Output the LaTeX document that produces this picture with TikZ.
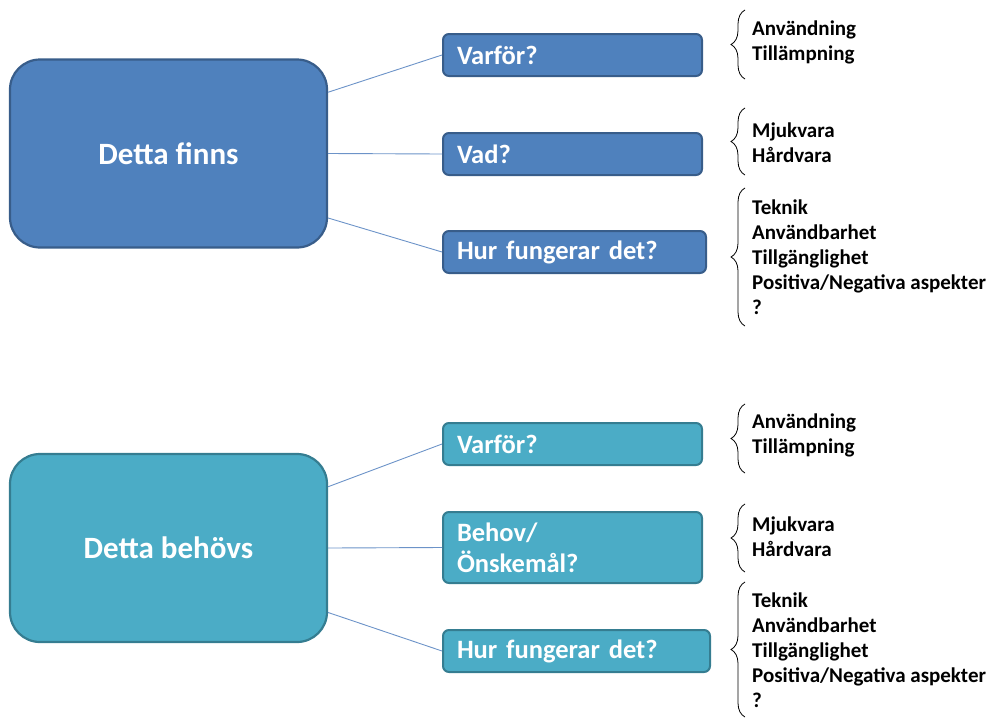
\documentclass[tikz,border=0pt]{standalone}
\usepackage{fontspec}
\setmainfont{Carlito}
\usepackage{tikz}
\usetikzlibrary{positioning,decorations.pathreplacing}
\usepackage{xcolor}
\definecolor{finnsfill}{HTML}{4F81BD}
\definecolor{finnsline}{HTML}{385D8A}
\definecolor{behovfill}{HTML}{4BACC6}
\definecolor{behovline}{HTML}{357D91}
\definecolor{linkcol}{HTML}{6C93C8}

\begin{document}
\begin{tikzpicture}[x=1pt,y=-1pt,
    mainbox/.style={draw,line width=2.2pt,rounded corners=30pt,minimum width=317pt,
      minimum height=188pt,text=white,font=\fontsize{31}{36}\selectfont\bfseries},
    subbox/.style={draw,line width=2pt,rounded corners=6pt,inner xsep=14pt,
      minimum height=42pt,align=left,text=white,font=\fontsize{26.5}{31}\selectfont\bfseries},
    link/.style={linkcol,line width=0.9pt},
    curly/.style={decorate,decoration={brace,amplitude=14pt},line width=0.8pt},
    items/.style={anchor=west,align=left,inner sep=0pt,font=\fontsize{21}{25}\selectfont\bfseries}]
  \useasboundingbox (0,0) rectangle (992,718);

  % upper half
  \node[mainbox,fill=finnsfill,draw=finnsline] (fin) at (168.5,153.5) {Detta finns};
  \node[subbox,fill=finnsfill,draw=finnsline,text width=231pt] (fvar) at (572.5,55) {Varf\"or?};
  \node[subbox,fill=finnsfill,draw=finnsline,text width=231pt] (fvad) at (572.5,154) {Vad?};
  \node[subbox,fill=finnsfill,draw=finnsline,text width=235pt] (fhur) at (574.5,252) {Hur fungerar det?};
  \draw[link] (fin.21) -- (fvar.west);
  \draw[link] (fin.east) -- (fvad.west);
  \draw[link] (fin.-22) -- (fhur.west);

  % lower half
  \node[mainbox,fill=behovfill,draw=behovline] (beh) at (168.5,548) {Detta beh\"ovs};
  \node[subbox,fill=behovfill,draw=behovline,text width=231pt] (bvar) at (572.5,444) {Varf\"or?};
  \node[subbox,fill=behovfill,draw=behovline,text width=231pt,minimum height=71pt] (bbeh) at (572.5,547.5) {Behov/\\\"Onskem\aa l?};
  \node[subbox,fill=behovfill,draw=behovline,text width=239pt] (bhur) at (576.5,651) {Hur fungerar det?};
  \draw[link] (beh.21) -- (bvar.west);
  \draw[link] (beh.east) -- (bbeh.west);
  \draw[link] (beh.-22) -- (bhur.west);

  % braces with lists
  \foreach \nm/\top/\bot/\mid/\txt in {
      fa/10/79/42.5/{Anv\"andning\\Till\"ampning},
      fb/108/175/142.5/{Mjukvara\\H\aa rdvara},
      fc/188/326/257/{Teknik\\Anv\"andbarhet\\Tillg\"anglighet\\Positiva/Negativa aspekter\\?},
      ba/404/473/435.5/{Anv\"andning\\Till\"ampning},
      bb/504/572/536.5/{Mjukvara\\H\aa rdvara},
      bc/582/717/650/{Teknik\\Anv\"andbarhet\\Tillg\"anglighet\\Positiva/Negativa aspekter\\?}} {
    \coordinate (\nm-lo) at (745,\bot);
    \coordinate (\nm-hi) at (745,\top);
    \draw[curly] (\nm-lo) -- (\nm-hi);
    \node[items] (\nm-list) at (752,\mid) {\txt};
  }
\end{tikzpicture}
\end{document}
